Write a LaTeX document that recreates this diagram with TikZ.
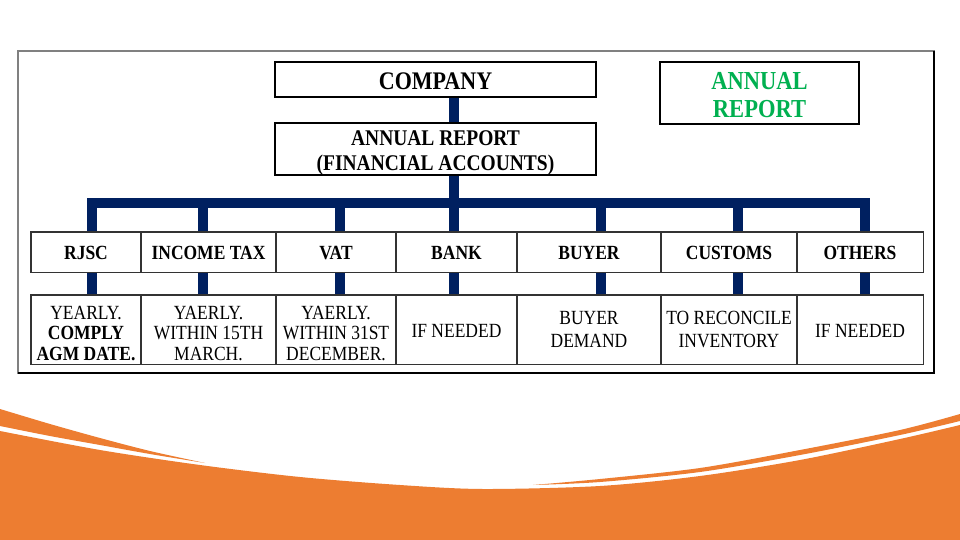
\documentclass[tikz,border=0pt]{standalone}
\usepackage{fontspec}
\setmainfont{Liberation Serif}[FakeStretch=0.87]
\definecolor{navy}{HTML}{002060}
\definecolor{orng}{HTML}{ED7D31}
\definecolor{grn}{HTML}{00B050}
\begin{document}
\begin{tikzpicture}[x=1pt,y=-1pt,
  topbox/.style={draw=black,line width=1.4pt,fill=white,inner sep=0pt},
  headcell/.style={draw=black!80,line width=0.9pt,fill=white,inner sep=0pt,minimum height=40pt},
  bodycell/.style={draw=black!80,line width=0.9pt,fill=white,inner sep=0pt,minimum height=69pt},
  toptext/.style={inner sep=0pt,align=center,font=\bfseries\fontsize{22.4}{25}\selectfont},
  headtext/.style={inner sep=0pt,align=center,yshift=-1pt,font=\bfseries\fontsize{20.1}{21}\selectfont},
  bodytext/.style={inner sep=0pt,align=center,yshift=-4pt,font=\fontsize{20.1}{20.8}\selectfont},
  bodytexttwo/.style={inner sep=0pt,align=center,yshift=0pt,font=\fontsize{20.1}{22.4}\selectfont},
  conn/.style={navy,line width=10pt}]
\useasboundingbox (0,0) rectangle (960,540);
\fill[white] (0,0) rectangle (960,540);
% bottom wave
\fill[orng] plot[smooth] coordinates {(0,431) (100,450) (200,465) (300,477) (400,485) (483,489) (600,486) (700,476) (800,460) (900,439) (960,425)} -- (960,540) -- (0,540) -- cycle;
\fill[orng] plot[smooth] coordinates {(0,409) (50,424) (100,438) (150,451) (205,463)} -- plot[smooth] coordinates {(205,463) (150,454) (100,445) (50,436) (0,426)} -- cycle;
\fill[orng] plot[smooth] coordinates {(533,485) (600,479) (700,468) (800,450) (900,430) (960,414)} -- (960,421) -- plot[smooth] coordinates {(960,421) (900,435) (800,455) (700,472) (600,482) (533,485)} -- cycle;
% frame
\draw[black!50,line width=1.2pt] (18,51) rectangle (934,373);
\draw[black,line width=1.6pt] (934,51) -- (934,373) -- (18,373);
% drop positions
\coordinate (d1) at (92,203);
\coordinate (d2) at (203,203);
\coordinate (d3) at (340,203);
\coordinate (d4) at (454,203);
\coordinate (d5) at (601,203);
\coordinate (d6) at (738,203);
\coordinate (d7) at (865,203);
% top boxes
\node[topbox,minimum width=321pt,minimum height=35pt] (company) at (435.5,79.5) {};
\node[topbox,minimum width=321pt,minimum height=52pt] (annual) at (435.5,149) {};
\node[topbox,minimum width=199pt,minimum height=62pt] (title) at (759.5,93) {};
\node[toptext,yshift=-1.5pt,font=\bfseries\fontsize{25.3}{28}\selectfont] (tcompany) at (company.center) {COMPANY};
\node[toptext,yshift=-4pt] (tannual) at (annual.center) {ANNUAL REPORT\\(FINANCIAL ACCOUNTS)};
\node[toptext,yshift=-2pt,text=grn,font=\bfseries\fontsize{25.9}{28}\selectfont] (ttitle) at (title.center) {ANNUAL\\REPORT};
% header cells
\node[headcell,minimum width=110pt] (h1) at (86,252) {};
\node[headcell,minimum width=135pt] (h2) at (208.5,252) {};
\node[headcell,minimum width=120pt] (h3) at (336,252) {};
\node[headcell,minimum width=121pt] (h4) at (456.5,252) {};
\node[headcell,minimum width=144pt] (h5) at (589,252) {};
\node[headcell,minimum width=136pt] (h6) at (729,252) {};
\node[headcell,minimum width=126pt] (h7) at (860,252) {};
\node[headtext] (th1) at (h1.center) {RJSC};
\node[headtext] (th2) at (h2.center) {INCOME TAX};
\node[headtext] (th3) at (h3.center) {VAT};
\node[headtext] (th4) at (h4.center) {BANK};
\node[headtext] (th5) at (h5.center) {BUYER};
\node[headtext] (th6) at (h6.center) {CUSTOMS};
\node[headtext] (th7) at (h7.center) {OTHERS};
% body cells
\node[bodycell,minimum width=110pt] (b1) at (86,329.5) {};
\node[bodycell,minimum width=135pt] (b2) at (208.5,329.5) {};
\node[bodycell,minimum width=120pt] (b3) at (336,329.5) {};
\node[bodycell,minimum width=121pt] (b4) at (456.5,329.5) {};
\node[bodycell,minimum width=144pt] (b5) at (589,329.5) {};
\node[bodycell,minimum width=136pt] (b6) at (729,329.5) {};
\node[bodycell,minimum width=126pt] (b7) at (860,329.5) {};
\node[bodytext] (tb1) at (b1.center) {YEARLY.\\\textbf{COMPLY}\\\textbf{AGM DATE.}};
\node[bodytext] (tb2) at (b2.center) {YAERLY.\\WITHIN 15TH\\MARCH.};
\node[bodytext] (tb3) at (b3.center) {YAERLY.\\WITHIN 31ST\\DECEMBER.};
\node[bodytexttwo,yshift=-1pt] (tb4) at (b4.center) {IF NEEDED};
\node[bodytexttwo] (tb5) at (b5.center) {BUYER\\DEMAND};
\node[bodytexttwo] (tb6) at (b6.center) {TO RECONCILE\\INVENTORY};
\node[bodytexttwo,yshift=-1pt] (tb7) at (b7.center) {IF NEEDED};
% connectors
\draw[conn] (company.south -| d4) -- (annual.north -| d4);
\draw[conn] (annual.south -| d4) -- (d4);
\draw[conn,line join=miter] (d1 |- h1.north) -- (d1) -- (d7) -- (d7 |- h7.north);
\draw[conn] (d2) -- (d2 |- h2.north);
\draw[conn] (d3) -- (d3 |- h3.north);
\draw[conn] (d4) -- (d4 |- h4.north);
\draw[conn] (d5) -- (d5 |- h5.north);
\draw[conn] (d6) -- (d6 |- h6.north);
\foreach \i in {1,...,7} {
  \draw[conn] (d\i |- h\i.south) -- (d\i |- b\i.north);
}
% redraw borders over connectors
\foreach \n in {h1,h2,h3,h4,h5,h6,h7,b1,b2,b3,b4,b5,b6,b7} {
  \draw[black!80,line width=0.9pt] (\n.north west) rectangle (\n.south east);
}
\draw[black,line width=1.4pt] (company.north west) rectangle (company.south east);
\draw[black,line width=1.4pt] (annual.north west) rectangle (annual.south east);
\end{tikzpicture}
\end{document}
